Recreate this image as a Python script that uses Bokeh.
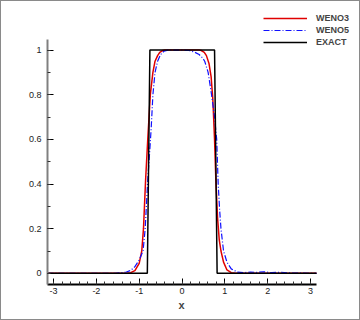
from bokeh.plotting import figure
from bokeh.models import Range1d, FixedTicker, Legend, LegendItem, Title
from bokeh.embed import file_html
from bokeh.resources import INLINE

# ---- data ----
exact_x = [-3.1416, -0.81, -0.75, 0.76, 0.82, 3.1416]
exact_y = [0, 0, 1, 1, 0, 0]

weno3_x = [-3.1416, -1.3, -1.2, -1.1, -1.0, -0.94, -0.9, -0.85, -0.8, -0.74, -0.68,
           -0.63, -0.57, -0.52, -0.45, -0.4, 0.0, 0.4, 0.45, 0.52, 0.57, 0.63, 0.68,
           0.72, 0.76, 0.79, 0.83, 0.87, 0.91, 0.97, 1.05, 1.15, 1.25, 3.1416]
weno3_y = [0, 0, 0.003, 0.012, 0.045, 0.1, 0.2, 0.42, 0.6, 0.8, 0.9,
           0.95, 0.975, 0.99, 0.998, 1.0, 1.0, 1.0, 0.998, 0.99, 0.975, 0.94, 0.88,
           0.78, 0.6, 0.42, 0.25, 0.15, 0.1, 0.05, 0.015, 0.003, 0, 0]

weno5_x = [-3.1416, -1.55, -1.45, -1.3, -1.2, -1.1, -1.0, -0.91, -0.86, -0.8, -0.76,
           -0.72, -0.68, -0.63, -0.57, -0.5, -0.42, -0.33, 0.0, 0.1, 0.2, 0.3, 0.4,
           0.48, 0.53, 0.61, 0.69, 0.76, 0.81, 0.845, 0.88, 0.91, 0.97, 1.05, 1.15,
           1.3, 1.45, 1.6, 1.75, 1.9, 2.1, 2.3, 2.5, 2.65, 3.1416]
weno5_y = [0, 0, 0.002, 0.006, 0.013, 0.03, 0.06, 0.1, 0.2, 0.42, 0.53,
           0.65, 0.8, 0.9, 0.95, 0.98, 0.995, 1.0, 1.0, 0.999, 0.997, 0.99, 0.98,
           0.965, 0.95, 0.9, 0.8, 0.7, 0.6, 0.4, 0.28, 0.2, 0.1, 0.05, 0.02,
           0.005, 0.003, 0.006, 0.004, 0.007, 0.003, 0.005, 0.002, 0.001, 0]

x_ticks = [-3, -2, -1, 0, 1, 2, 3]
x_minor = [round(-3 + 0.2 * i, 1) for i in range(31)]
y_ticks = [0, 0.2, 0.4, 0.6, 0.8, 1]
y_minor = [round(0.1 * i, 1) for i in range(11)]
series_labels = ["WENO3", "WENO5", "EXACT"]
x_label = "x"

FONT = "Liberation Sans"

# frame extended to the top/right so the legend (drawn inside the frame) is not clipped;
# axis bounds keep the axes at their original extent
p = figure(frame_width=311, frame_height=281, output_backend="svg", toolbar_location=None,
           x_range=Range1d(-3.1416, 4.122), y_range=Range1d(-0.05, 1.2085),
           min_border_left=46, min_border_top=2, min_border_right=1, min_border_bottom=35)
p.outline_line_color = None
p.grid.visible = False
p.background_fill_color = "white"
p.border_fill_color = "white"
p.styles = {"border": "1px solid #8a8a8a"}

r3 = p.line(weno3_x, weno3_y, line_color="#e00000", line_width=1.5)
r5 = p.line(weno5_x, weno5_y, line_color="#1010ff", line_width=1.2, line_dash="6 2 1 2")
re = p.line(exact_x, exact_y, line_color="black", line_width=1.5)

for ax in (p.xaxis[0], p.yaxis[0]):
    ax.major_tick_in = 6
    ax.major_tick_out = 0
    ax.minor_tick_in = 3
    ax.minor_tick_out = 0
    ax.major_tick_line_color = "black"
    ax.minor_tick_line_color = "#333333"
    ax.major_label_text_font = FONT
    ax.major_label_text_font_size = "9px"
    ax.major_label_text_color = "#222222"
    ax.axis_line_width = 2

p.xaxis[0].bounds = (-3.1416, 3.1416)
p.yaxis[0].bounds = (-0.05, 1.047)
p.xaxis[0].ticker = FixedTicker(ticks=x_ticks, minor_ticks=x_minor)
p.yaxis[0].ticker = FixedTicker(ticks=y_ticks, minor_ticks=y_minor)
p.xaxis[0].major_label_overrides = {t: str(t) for t in x_ticks}
p.yaxis[0].major_label_overrides = {0: "0", 0.2: "0.2", 0.4: "0.4", 0.6: "0.6", 0.8: "0.8", 1: "1"}
p.xaxis[0].axis_line_color = "black"
p.yaxis[0].axis_line_color = "#808080"
p.xaxis[0].major_label_standoff = 3
p.yaxis[0].major_label_standoff = 6

# x-axis label, placed under x = 0 (the frame is wider than the axis)
p.add_layout(Title(text=x_label, align="left", offset=131, standoff=0,
                   text_font=FONT, text_font_size="11px", text_font_style="bold"), "below")

legend = Legend(items=[LegendItem(label=series_labels[0], renderers=[r3]),
                       LegendItem(label=series_labels[1], renderers=[r5]),
                       LegendItem(label=series_labels[2], renderers=[re])],
                location=(216, 236), padding=0, margin=0, spacing=0,
                glyph_width=44, glyph_height=12, label_height=12, label_standoff=9,
                label_text_font=FONT, label_text_font_size="9px",
                label_text_font_style="bold", border_line_color=None,
                background_fill_alpha=0)
p.add_layout(legend, "center")

open("out.html", "w").write(file_html(p, INLINE))
